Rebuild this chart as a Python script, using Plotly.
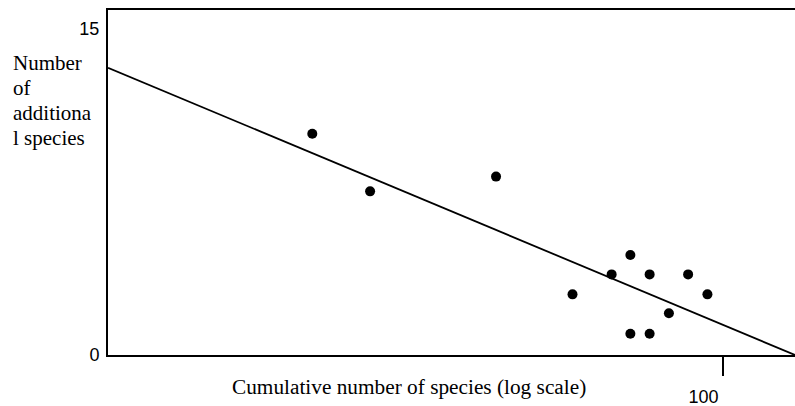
import plotly.graph_objects as go
import numpy as np

# Data
cum_species = [21.5, 26.7, 42.8, 57.0, 66.0, 70.8, 70.8, 76.1, 76.1, 81.8, 87.9, 94.5]
add_species = [10.18, 7.53, 8.21, 2.79, 3.71, 4.60, 0.98, 3.71, 0.98, 1.92, 3.71, 2.79]

fit_x = [10, 131.2]
fit_y = [13.22, 0]

x_tickvals = [100]
x_ticktext = ["100"]
y_tickvals = [0, 15]
y_ticktext = ["0", "15"]

y_title_lines = ["Number", "of", "additiona", "l species"]
x_title = "Cumulative number of species (log scale)"

W, H = 795, 406
L, R, T, B = 108, 0, 10, 51
pw, ph = W - L - R, H - T - B

fig = go.Figure()
fig.add_trace(go.Scatter(x=fit_x, y=fit_y, mode="lines",
                         line=dict(color="black", width=1.8),
                         hoverinfo="skip", showlegend=False))
fig.add_trace(go.Scatter(x=cum_species, y=add_species, mode="markers",
                         marker=dict(color="black", size=10),
                         showlegend=False))

serif = "Liberation Serif, Times New Roman, serif"
sans = "Liberation Sans, Arial, sans-serif"

annotations = []
baselines = [68.3, 93.3, 118.3, 143.3]
for line, bl in zip(y_title_lines, baselines):
    cy = bl - 5
    annotations.append(dict(text=line, xref="paper", yref="paper",
                            x=(11 - L) / pw, y=(H - B - cy) / ph,
                            xanchor="left", yanchor="middle", showarrow=False,
                            font=dict(family=serif, size=21, color="black")))
annotations.append(dict(text=x_title, xref="paper", yref="paper",
                        x=(230 - L) / pw, y=(H - B - 387) / ph,
                        xanchor="left", yanchor="middle", showarrow=False,
                        font=dict(family=serif, size=21.3, color="black")))

fig.update_layout(
    width=W, height=H,
    margin=dict(l=L, r=R, t=T, b=B, pad=0),
    paper_bgcolor="white", plot_bgcolor="white",
    showlegend=False,
    annotations=annotations,
    xaxis=dict(type="log", range=[1, np.log10(131.2)],
               tickvals=x_tickvals, ticktext=x_ticktext,
               ticks="outside", ticklen=19, tickwidth=2, tickcolor="black",
               ticklabelshift=-19, ticklabelstandoff=5,
               tickfont=dict(family=sans, size=18, color="black"),
               showline=True, linecolor="black", linewidth=2, mirror=True,
               showgrid=False, zeroline=False, fixedrange=True),
    yaxis=dict(range=[0, 345 / 21.73],
               tickvals=y_tickvals, ticktext=y_ticktext,
               ticks="", ticklabelstandoff=3,
               tickfont=dict(family=sans, size=18, color="black"),
               showline=True, linecolor="black", linewidth=2, mirror=False,
               showgrid=False, zeroline=False, fixedrange=True),
)

fig.write_html("out.html", config={"displayModeBar": False},
               post_script="document.body.style.margin='0';document.body.style.overflow='hidden';")
